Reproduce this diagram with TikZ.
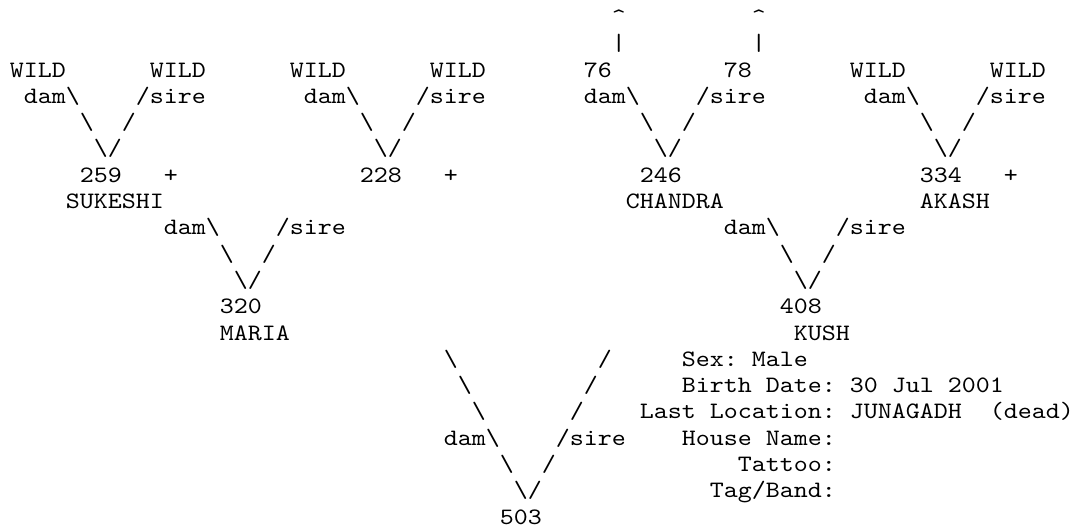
\documentclass[tikz,border=0pt]{standalone}
\usepackage{fontspec}
\newfontfamily\pedfont{lmmono10-regular}[Extension=.otf, FakeStretch=1.1347]

\begin{document}
\begin{tikzpicture}[
    x=14bp, y=-26.3bp,
    every node/.style={
        inner sep=0pt,
        outer sep=0pt,
        anchor=base west,
        font=\pedfont\fontsize{23.5bp}{26.3bp}\selectfont\frenchspacing
    }
]
\useasboundingbox (-0.714,0.072) rectangle (75.93,20.224);

% Founders and parents of the top row
\foreach \c/\n in {0/wa,10/wb,20/wc,30/wd,60/we,70/wf}
    \node (\n) at (\c,3) {WILD};
\node (s76) at (41,3) {76};
\node (s78) at (51,3) {78};
\foreach \c/\n in {43/a,53/b} {
    \node (bar\n) at (\c,2) {|};
    \node (hat\n) at (\c,1) {\textasciicircum};
}

% dam/sire branches
\foreach \b/\t in {0/4,20/4,40/4,60/4,10/9,50/9} {
    \node (dam\b) at (\b+1,\t) {dam\textbackslash};
    \node (sire\b) at (\b+9,\t) {/sire};
    \node (l\b) at (\b+5,\t+1) {\textbackslash};
    \node (r\b) at (\b+8,\t+1) {/};
    \node (v\b) at (\b+6,\t+2) {\textbackslash/};
}

% Animals
\node (n259) at (5,7) {259};
\node (p259) at (11,7) {+};
\node (n228) at (25,7) {228};
\node (p228) at (31,7) {+};
\node (n246) at (45,7) {246};
\node (n334) at (65,7) {334};
\node (p334) at (71,7) {+};
\node (sukeshi) at (4,8) {SUKESHI};
\node (chandra) at (44,8) {CHANDRA};
\node (akash) at (65,8) {AKASH};
\node (n320) at (15,12) {320};
\node (maria) at (15,13) {MARIA};
\node (n408) at (55,12) {408};
\node (kush) at (56,13) {KUSH};

% Long branch down to 503
\foreach \k in {0,1,2} {
    \node (ll\k) at (31+\k,14+\k) {\textbackslash};
    \node (rr\k) at (42-\k,14+\k) {/};
}
\node (dam503) at (31,17) {dam\textbackslash};
\node (sire503) at (39,17) {/sire};
\node (l503) at (35,18) {\textbackslash};
\node (r503) at (38,18) {/};
\node (v503) at (36,19) {\textbackslash/};
\node (n503) at (35,20) {503};

% Record of KUSH
\node (sex) at (48,14) {Sex: Male};
\node (birth) at (48,15) {Birth Date: 30 Jul 2001};
\node (loc) at (45,16) {Last Location: JUNAGADH\ \ (dead)};
\node (house) at (48,17) {House Name:};
\node (tattoo) at (52,18) {Tattoo:};
\node (tag) at (50,19) {Tag/Band:};
\end{tikzpicture}
\end{document}
